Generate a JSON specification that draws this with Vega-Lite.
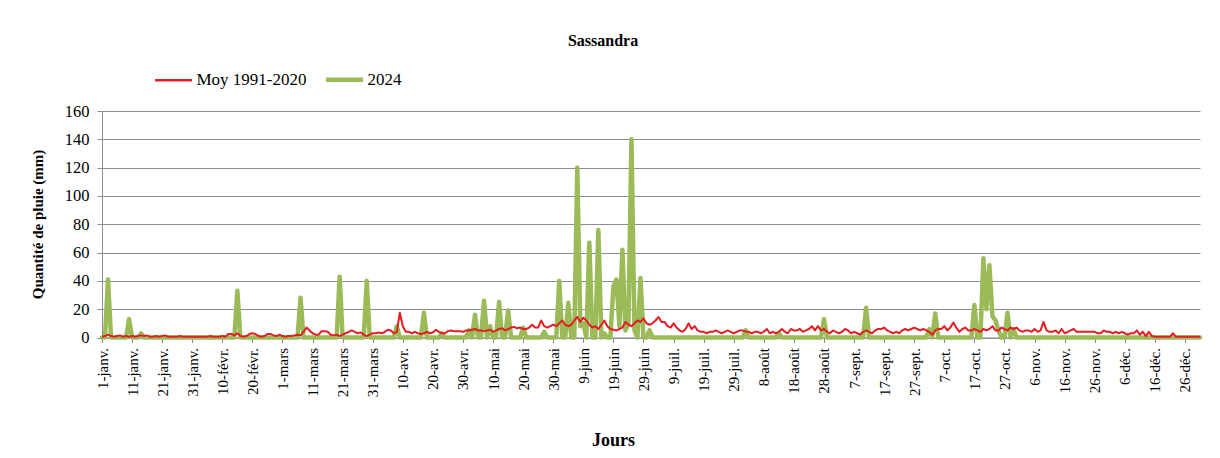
{
"$schema":"https://vega.github.io/schema/vega-lite/v6.json",
"autosize":{"type":"none"},
"width":1098,"height":226.5,
"padding":{"left":102,"top":111,"right":20,"bottom":120.5},
"background":"white",
"config":{"view":{"stroke":null},"font":"Liberation Serif"},
"title":{"text":"Sassandra","font":"Liberation Serif","fontSize":16,"fontWeight":"bold","color":"black","anchor":"middle","frame":"group","baseline":"alphabetic","offset":9,"dx":-48},
"data":{"values":[
{"d":1,"m":0.5,"a":0},{"d":2,"m":1,"a":0},{"d":3,"m":2,"a":41},{"d":4,"m":1,"a":0},{"d":5,"m":0.5,"a":0},{"d":6,"m":1,"a":0},{"d":7,"m":1.5,"a":0},{"d":8,"m":0.5,"a":0},{"d":9,"m":1,"a":0},{"d":10,"m":0.5,"a":13},
{"d":11,"m":1,"a":0},{"d":12,"m":0.5,"a":0},{"d":13,"m":1,"a":0},{"d":14,"m":1.5,"a":3},{"d":15,"m":1,"a":0},{"d":16,"m":1.5,"a":0},{"d":17,"m":0.5,"a":0},{"d":18,"m":0.5,"a":0},{"d":19,"m":1,"a":0},{"d":20,"m":0.5,"a":0},
{"d":21,"m":1,"a":0},{"d":22,"m":1.5,"a":0},{"d":23,"m":0.5,"a":0},{"d":24,"m":0.5,"a":0},{"d":25,"m":0.5,"a":0},{"d":26,"m":0.5,"a":0},{"d":27,"m":1,"a":0},{"d":28,"m":0.5,"a":0},{"d":29,"m":0.5,"a":0},{"d":30,"m":0.5,"a":0},
{"d":31,"m":0.5,"a":0},{"d":32,"m":0.5,"a":0},{"d":33,"m":0.5,"a":0},{"d":34,"m":0.5,"a":0},{"d":35,"m":0.5,"a":0},{"d":36,"m":0.5,"a":0},{"d":37,"m":1,"a":0},{"d":38,"m":0.5,"a":0},{"d":39,"m":0.5,"a":0},{"d":40,"m":0.5,"a":0},
{"d":41,"m":1,"a":0},{"d":42,"m":0.5,"a":0},{"d":43,"m":2.5,"a":0},{"d":44,"m":2.5,"a":0},{"d":45,"m":1.5,"a":0},{"d":46,"m":3,"a":33},{"d":47,"m":1,"a":0},{"d":48,"m":0.5,"a":0},{"d":49,"m":1,"a":0},{"d":50,"m":2.5,"a":0},
{"d":51,"m":3,"a":0},{"d":52,"m":2.5,"a":0},{"d":53,"m":1,"a":0},{"d":54,"m":0.5,"a":0},{"d":55,"m":1,"a":0},{"d":56,"m":2.5,"a":0},{"d":57,"m":2.5,"a":0},{"d":58,"m":1.5,"a":0},{"d":59,"m":1,"a":0},{"d":60,"m":2,"a":0},
{"d":61,"m":1,"a":0},{"d":62,"m":0.5,"a":0},{"d":63,"m":1,"a":0},{"d":64,"m":1,"a":0},{"d":65,"m":1.5,"a":0},{"d":66,"m":2,"a":0},{"d":67,"m":1.5,"a":28},{"d":68,"m":4,"a":0},{"d":69,"m":7,"a":0},{"d":70,"m":5,"a":0},
{"d":71,"m":3,"a":0},{"d":72,"m":2,"a":0},{"d":73,"m":2,"a":0},{"d":74,"m":4.5,"a":0},{"d":75,"m":4.5,"a":0},{"d":76,"m":4,"a":0},{"d":77,"m":2,"a":0},{"d":78,"m":1.5,"a":0},{"d":79,"m":2,"a":0},{"d":80,"m":1,"a":43},
{"d":81,"m":2,"a":0},{"d":82,"m":3,"a":0},{"d":83,"m":4,"a":0},{"d":84,"m":5,"a":0},{"d":85,"m":4,"a":0},{"d":86,"m":3,"a":0},{"d":87,"m":3.5,"a":0},{"d":88,"m":2,"a":0},{"d":89,"m":1,"a":40},{"d":90,"m":2,"a":0},
{"d":91,"m":3,"a":0},{"d":92,"m":3,"a":0},{"d":93,"m":3.5,"a":0},{"d":94,"m":3,"a":0},{"d":95,"m":4,"a":0},{"d":96,"m":5.5,"a":0},{"d":97,"m":5,"a":0},{"d":98,"m":3,"a":0},{"d":99,"m":4,"a":8},{"d":100,"m":17.5,"a":0},
{"d":101,"m":8,"a":0},{"d":102,"m":4,"a":0},{"d":103,"m":4,"a":0},{"d":104,"m":3,"a":0},{"d":105,"m":4,"a":0},{"d":106,"m":3,"a":0},{"d":107,"m":2.5,"a":0},{"d":108,"m":3,"a":17.5},{"d":109,"m":4,"a":0},{"d":110,"m":3,"a":0},
{"d":111,"m":3.5,"a":0},{"d":112,"m":5.5,"a":0},{"d":113,"m":4,"a":0},{"d":114,"m":3,"a":3},{"d":115,"m":3,"a":0},{"d":116,"m":4.5,"a":0},{"d":117,"m":5,"a":0},{"d":118,"m":4.5,"a":0},{"d":119,"m":4.5,"a":0},{"d":120,"m":4.5,"a":0},
{"d":121,"m":4,"a":0},{"d":122,"m":5,"a":0},{"d":123,"m":5,"a":5},{"d":124,"m":5.5,"a":0},{"d":125,"m":6,"a":16},{"d":126,"m":5,"a":0},{"d":127,"m":5,"a":0},{"d":128,"m":4.5,"a":26},{"d":129,"m":5,"a":0},{"d":130,"m":5.5,"a":8},
{"d":131,"m":4,"a":0},{"d":132,"m":5,"a":0},{"d":133,"m":6,"a":25},{"d":134,"m":6.5,"a":0},{"d":135,"m":5,"a":0},{"d":136,"m":6,"a":19},{"d":137,"m":7,"a":0},{"d":138,"m":7.5,"a":0},{"d":139,"m":6.5,"a":0},{"d":140,"m":7,"a":0},
{"d":141,"m":6,"a":7},{"d":142,"m":6,"a":0},{"d":143,"m":7,"a":0},{"d":144,"m":9,"a":0},{"d":145,"m":7,"a":0},{"d":146,"m":7,"a":0},{"d":147,"m":12,"a":0},{"d":148,"m":8,"a":4},{"d":149,"m":7,"a":0},{"d":150,"m":8,"a":0},
{"d":151,"m":9,"a":0},{"d":152,"m":8,"a":0},{"d":153,"m":10,"a":40},{"d":154,"m":12,"a":0},{"d":155,"m":9,"a":0},{"d":156,"m":8,"a":24.5},{"d":157,"m":9,"a":0},{"d":158,"m":12,"a":0},{"d":159,"m":14.5,"a":120},{"d":160,"m":11,"a":8},
{"d":161,"m":14,"a":10},{"d":162,"m":12,"a":0},{"d":163,"m":9,"a":67},{"d":164,"m":7,"a":0},{"d":165,"m":8,"a":0},{"d":166,"m":6,"a":76},{"d":167,"m":9,"a":0},{"d":168,"m":12,"a":3},{"d":169,"m":8,"a":0},{"d":170,"m":6,"a":0},
{"d":171,"m":5.5,"a":36},{"d":172,"m":5,"a":41},{"d":173,"m":6,"a":8},{"d":174,"m":7,"a":62},{"d":175,"m":11,"a":5},{"d":176,"m":9,"a":10},{"d":177,"m":8,"a":140},{"d":178,"m":10,"a":5},{"d":179,"m":12,"a":0},{"d":180,"m":11,"a":42},
{"d":181,"m":13.5,"a":0},{"d":182,"m":10,"a":0},{"d":183,"m":9,"a":5},{"d":184,"m":10,"a":0},{"d":185,"m":12,"a":0},{"d":186,"m":14.5,"a":0},{"d":187,"m":11,"a":0},{"d":188,"m":11,"a":0},{"d":189,"m":8,"a":0},{"d":190,"m":7,"a":0},
{"d":191,"m":10,"a":0},{"d":192,"m":7,"a":0},{"d":193,"m":5,"a":0},{"d":194,"m":4,"a":0},{"d":195,"m":6,"a":0},{"d":196,"m":10,"a":0},{"d":197,"m":6,"a":0},{"d":198,"m":8,"a":0},{"d":199,"m":5,"a":0},{"d":200,"m":4,"a":0},
{"d":201,"m":4,"a":0},{"d":202,"m":3,"a":0},{"d":203,"m":4,"a":0},{"d":204,"m":4,"a":0},{"d":205,"m":5,"a":0},{"d":206,"m":4,"a":0},{"d":207,"m":3,"a":0},{"d":208,"m":4,"a":0},{"d":209,"m":5,"a":0},{"d":210,"m":4,"a":0},
{"d":211,"m":3,"a":0},{"d":212,"m":4,"a":0},{"d":213,"m":5,"a":0},{"d":214,"m":5,"a":0},{"d":215,"m":4,"a":5},{"d":216,"m":4,"a":0},{"d":217,"m":3,"a":0},{"d":218,"m":4,"a":0},{"d":219,"m":4,"a":0},{"d":220,"m":3,"a":0},
{"d":221,"m":4,"a":0},{"d":222,"m":6,"a":0},{"d":223,"m":3,"a":0},{"d":224,"m":4,"a":0},{"d":225,"m":3,"a":0},{"d":226,"m":4,"a":3},{"d":227,"m":6,"a":0},{"d":228,"m":4,"a":0},{"d":229,"m":3,"a":0},{"d":230,"m":6,"a":0},
{"d":231,"m":5,"a":0},{"d":232,"m":5,"a":0},{"d":233,"m":6,"a":0},{"d":234,"m":4,"a":0},{"d":235,"m":5,"a":0},{"d":236,"m":6,"a":0},{"d":237,"m":8,"a":0},{"d":238,"m":5,"a":0},{"d":239,"m":8,"a":0},{"d":240,"m":5,"a":0},
{"d":241,"m":6,"a":13},{"d":242,"m":4,"a":0},{"d":243,"m":3,"a":0},{"d":244,"m":5,"a":0},{"d":245,"m":4,"a":0},{"d":246,"m":3,"a":0},{"d":247,"m":4,"a":0},{"d":248,"m":6,"a":0},{"d":249,"m":5,"a":0},{"d":250,"m":3,"a":0},
{"d":251,"m":4,"a":0},{"d":252,"m":3,"a":0},{"d":253,"m":2,"a":0},{"d":254,"m":4,"a":0},{"d":255,"m":5,"a":21},{"d":256,"m":4,"a":0},{"d":257,"m":3,"a":0},{"d":258,"m":5,"a":0},{"d":259,"m":6,"a":0},{"d":260,"m":6,"a":0},
{"d":261,"m":7,"a":0},{"d":262,"m":5,"a":0},{"d":263,"m":4,"a":0},{"d":264,"m":3,"a":0},{"d":265,"m":4,"a":0},{"d":266,"m":3,"a":0},{"d":267,"m":5,"a":0},{"d":268,"m":6,"a":0},{"d":269,"m":5,"a":0},{"d":270,"m":6,"a":0},
{"d":271,"m":7,"a":0},{"d":272,"m":6,"a":0},{"d":273,"m":5,"a":0},{"d":274,"m":6,"a":0},{"d":275,"m":5,"a":0},{"d":276,"m":4,"a":6},{"d":277,"m":2,"a":0},{"d":278,"m":5,"a":17},{"d":279,"m":6,"a":0},{"d":280,"m":6,"a":0},
{"d":281,"m":8,"a":0},{"d":282,"m":5,"a":0},{"d":283,"m":7,"a":0},{"d":284,"m":10.5,"a":0},{"d":285,"m":7,"a":0},{"d":286,"m":4,"a":0},{"d":287,"m":6,"a":0},{"d":288,"m":7,"a":0},{"d":289,"m":5,"a":0},{"d":290,"m":5,"a":0},
{"d":291,"m":6,"a":23},{"d":292,"m":5,"a":0},{"d":293,"m":4,"a":0},{"d":294,"m":6,"a":56},{"d":295,"m":5,"a":20},{"d":296,"m":6,"a":51},{"d":297,"m":8,"a":15},{"d":298,"m":5,"a":12},{"d":299,"m":5,"a":5},{"d":300,"m":7,"a":0},
{"d":301,"m":6,"a":0},{"d":302,"m":5,"a":17.5},{"d":303,"m":7,"a":0},{"d":304,"m":6,"a":6},{"d":305,"m":7,"a":0},{"d":306,"m":5,"a":0},{"d":307,"m":4,"a":0},{"d":308,"m":5,"a":0},{"d":309,"m":5,"a":0},{"d":310,"m":4,"a":0},
{"d":311,"m":6,"a":0},{"d":312,"m":4,"a":0},{"d":313,"m":5,"a":0},{"d":314,"m":11,"a":0},{"d":315,"m":5,"a":0},{"d":316,"m":4,"a":0},{"d":317,"m":4,"a":0},{"d":318,"m":5,"a":0},{"d":319,"m":3,"a":0},{"d":320,"m":6,"a":0},
{"d":321,"m":3,"a":0},{"d":322,"m":4,"a":0},{"d":323,"m":5,"a":0},{"d":324,"m":6,"a":0},{"d":325,"m":4,"a":0},{"d":326,"m":4,"a":0},{"d":327,"m":4,"a":0},{"d":328,"m":4,"a":0},{"d":329,"m":4,"a":0},{"d":330,"m":4,"a":0},
{"d":331,"m":4,"a":0},{"d":332,"m":3,"a":0},{"d":333,"m":3,"a":0},{"d":334,"m":5,"a":0},{"d":335,"m":4,"a":0},{"d":336,"m":4,"a":0},{"d":337,"m":3,"a":0},{"d":338,"m":4,"a":0},{"d":339,"m":3,"a":0},{"d":340,"m":4,"a":0},
{"d":341,"m":3,"a":0},{"d":342,"m":2,"a":0},{"d":343,"m":3,"a":0},{"d":344,"m":3,"a":0},{"d":345,"m":5,"a":0},{"d":346,"m":2,"a":0},{"d":347,"m":4,"a":0},{"d":348,"m":1,"a":0},{"d":349,"m":4,"a":0},{"d":350,"m":1,"a":0},
{"d":351,"m":0.5,"a":0},{"d":352,"m":0.5,"a":0},{"d":353,"m":0.5,"a":0},{"d":354,"m":0.5,"a":0},{"d":355,"m":0.5,"a":0},{"d":356,"m":0.5,"a":0},{"d":357,"m":3,"a":0},{"d":358,"m":0.5,"a":0},{"d":359,"m":0.5,"a":0},{"d":360,"m":0.5,"a":0},
{"d":361,"m":0.5,"a":0},{"d":362,"m":0.5,"a":0},{"d":363,"m":0.5,"a":0},{"d":364,"m":0.5,"a":0},{"d":365,"m":0.5,"a":0},{"d":366,"m":0.5,"a":0}
]},
"transform":[{"fold":["m","a"],"as":["serie","pluie"]}],
"encoding":{
"x":{"field":"d","type":"quantitative","scale":{"domain":[1,366],"nice":false,"zero":false},
"axis":{"values":[1,11,21,31,41,51,61,71,81,91,101,111,121,131,141,151,161,171,181,191,201,211,221,231,241,251,261,271,281,291,301,311,321,331,341,351,361],
"labelExpr":"['1-janv.','11-janv.','21-janv.','31-janv.','10-févr.','20-févr.','1-mars','11-mars','21-mars','31-mars','10-avr.','20-avr.','30-avr.','10-mai','20-mai','30-mai','9-juin','19-juin','29-juin','9-juil.','19-juil.','29-juil.','8-août','18-août','28-août','7-sept.','17-sept.','27-sept.','7-oct.','17-oct.','27-oct.','6-nov.','16-nov.','26-nov.','6-déc.','16-déc.','26-déc.'][round((datum.value-1)/10)]",
"labelAngle":-90,"labelAlign":"right","labelBaseline":"middle","labelFont":"Liberation Serif","labelFontSize":15,"labelColor":"black","labelPadding":5,"labelOverlap":false,"labelFlush":false,
"tickSize":5,"tickColor":"#8c8c8c","domainColor":"#8c8c8c","grid":false,
"title":"Jours","titleFont":"Liberation Serif","titleFontSize":18,"titleFontWeight":"bold","titleColor":"black","titleY":94,"titleBaseline":"top","titleX":511}},
"y":{"field":"pluie","type":"quantitative","scale":{"domain":[0,160],"nice":false},
"axis":{"values":[0,20,40,60,80,100,120,140,160],"labelFont":"Liberation Serif","labelFontSize":16.5,"labelColor":"black","labelPadding":8,"tickSize":5,"tickColor":"#8c8c8c","domainColor":"#8c8c8c","gridColor":"#8c8c8c","gridWidth":1,
"title":"Quantité de pluie (mm)","titleFont":"Liberation Serif","titleFontSize":15,"titleFontWeight":"bold","titleColor":"black","titleX":-65,"titleY":113,"titleAngle":-90,"titleAlign":"center","titleBaseline":"middle"}},
"color":{"field":"serie","type":"nominal","scale":{"domain":["m","a"],"range":["#E31E24","#9BBB59"]},
"legend":{"orient":"none","legendX":63,"legendY":-40,"direction":"horizontal","title":null,"symbolType":"stroke","symbolSize":1369,"labelFont":"Liberation Serif","labelFontSize":17,"labelColor":"black","labelOffset":14.5,"columnPadding":10,
"labelExpr":"datum.value=='m'?'Moy 1991-2020':'2024'",
"encode":{"symbols":{"update":{"strokeWidth":{"signal":"datum.value=='a'?4.5:2.5"}}}}}}
},
"layer":[
{"transform":[{"filter":"datum.serie=='a'"}],"mark":{"type":"line","strokeWidth":4.5,"strokeJoin":"round","strokeCap":"round"}},
{"transform":[{"filter":"datum.serie=='m'"}],"mark":{"type":"line","strokeWidth":2,"strokeJoin":"round"}}
]
}
